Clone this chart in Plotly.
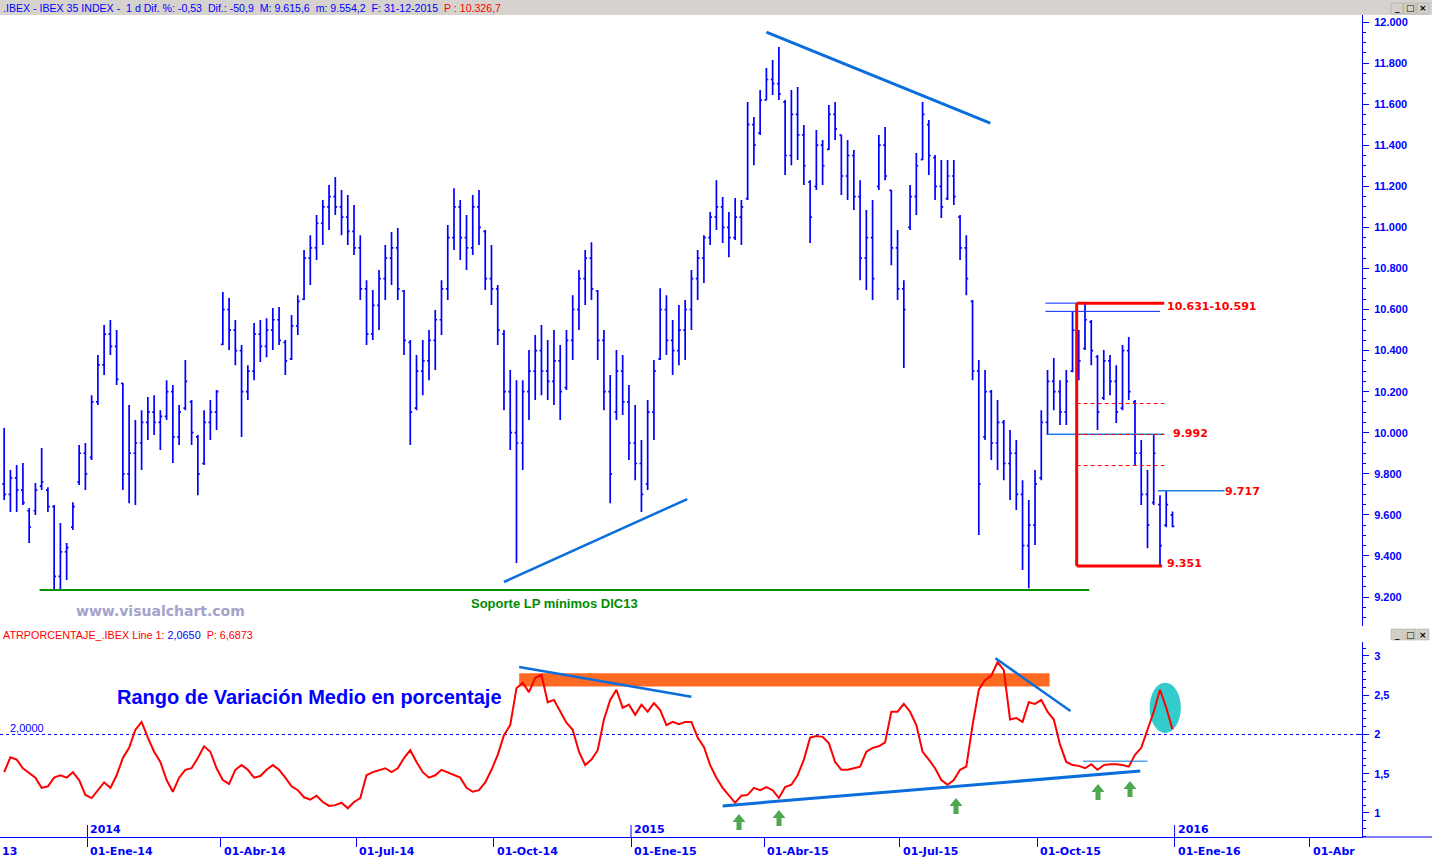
import pandas as pd
import plotly.graph_objects as go

W, H = 1432, 857


def px(x):
    return x / W


def py(y):
    return 1 - y / H


# ---------------- data ----------------
start_date = "2013-11-06"   # first bar; one bar every 3 trading days

opens = [9750, 9700, 9780, 9720, 9620, 9620, 9740, 9720, 9640, 9300,
         9420, 9540, 9760, 9900, 9880, 10150, 10330, 10480, 10420, 10240,
         9800, 9900, 9950, 10050, 10100, 10050, 10080, 10200, 9980, 10120,
         10150, 9980, 9850, 10050, 10100, 10430, 10600, 10500, 10400, 10200,
         10300, 10480, 10420, 10500, 10550, 10440, 10360, 10520, 10650, 10850,
         10900, 11020, 11100, 11150, 11100, 11050, 10980, 10900, 10700, 10480,
         10620, 10750, 10850, 10900, 10690, 10440, 10120, 10300, 10350, 10450,
         10550, 10700, 10950, 11100, 10950, 10900, 11100, 10980, 10750, 10700,
         10480, 10200, 10000, 9950, 10200, 10300, 10400, 10300, 10250, 10350,
         10220, 10450, 10600, 10750, 10850, 10690, 10450, 10200, 10100, 10300,
         10150, 9950, 9850, 9750, 10100, 10360, 10600, 10450, 10400, 10500,
         10600, 10750, 10850, 10950, 11050, 11100, 11000, 10950, 11050, 11140,
         11500, 11460, 11620, 11720, 11700, 11610, 11350, 11550, 11450, 11220,
         11200, 11400, 11380, 11550, 11450, 11250, 11350, 11150, 10850, 10950,
         11200, 11400, 11180, 10900, 10700, 11000, 11150, 11330, 11500, 11340,
         11200, 11140, 11250, 11050, 10900, 10640, 10300, 9980, 10200, 9950,
         10050, 9850, 9900, 9700, 9450, 9550, 9780, 10050, 10250, 10200,
         10100, 10300, 10480, 10410, 10540, 10370, 10170, 10350, 10250, 10120,
         10400, 10150, 9900, 9700, 9660, 9650, 9550, 9600]

highs = [10023, 9818, 9843, 9852, 9633, 9755, 9925, 9735, 9648, 9560,
         9463, 9662, 9940, 9950, 10183, 10378, 10524, 10549, 10500, 10242,
         10135, 10062, 10110, 10174, 10183, 10110, 10256, 10232, 10135, 10354,
         10159, 9989, 10110, 10159, 10208, 10685, 10656, 10549, 10427, 10329,
         10534, 10549, 10558, 10607, 10612, 10451, 10573, 10670, 10890, 10962,
         11060, 11133, 11206, 11245, 11182, 11157, 11109, 10962, 10743, 10695,
         10792, 10914, 10977, 10997, 10695, 10451, 10378, 10451, 10500, 10597,
         10743, 11011, 11191, 11133, 11060, 11157, 11182, 10987, 10914, 10719,
         10500, 10305, 10256, 10256, 10403, 10476, 10524, 10451, 10500, 10427,
         10500, 10670, 10792, 10890, 10928, 10695, 10500, 10281, 10403, 10378,
         10232, 10135, 9964, 10159, 10354, 10704, 10670, 10549, 10622, 10646,
         10792, 10890, 10962, 11075, 11230, 11148, 11075, 11143, 11133, 11610,
         11537, 11669, 11776, 11815, 11878, 11620, 11669, 11683, 11498, 11230,
         11474, 11425, 11596, 11610, 11450, 11425, 11377, 11230, 11084, 11133,
         11450, 11489, 11182, 10987, 10743, 11206, 11362, 11610, 11523, 11352,
         11328, 11328, 11328, 11060, 10962, 10646, 10354, 10305, 10208, 10159,
         10062, 10013, 9964, 9769, 9672, 9818, 10110, 10305, 10364, 10256,
         10305, 10588, 10500, 10631, 10549, 10378, 10403, 10378, 10329, 10427,
         10466, 10159, 9964, 9818, 9992, 9696, 9721, 9616]

lows = [9672, 9614, 9614, 9648, 9463, 9599, 9721, 9614, 9229, 9234,
        9283, 9526, 9745, 9721, 9867, 10135, 10281, 10378, 10232, 9721,
        9657, 9648, 9818, 9964, 9989, 9916, 10062, 9852, 9940, 10110,
        9940, 9696, 9843, 9964, 10013, 10427, 10403, 10329, 9979, 10159,
        10256, 10344, 10368, 10403, 10427, 10281, 10354, 10476, 10646, 10719,
        10841, 10914, 10987, 11060, 10962, 10914, 10865, 10646, 10427, 10451,
        10500, 10646, 10719, 10646, 10378, 9940, 10110, 10183, 10256, 10305,
        10476, 10646, 10890, 10841, 10792, 10865, 10914, 10695, 10622, 10427,
        10110, 9916, 9365, 9818, 10062, 10159, 10183, 10159, 10135, 10062,
        10208, 10354, 10500, 10622, 10646, 10354, 10110, 9657, 10062, 10086,
        9867, 9769, 9614, 9721, 9964, 10354, 10378, 10281, 10329, 10354,
        10500, 10646, 10729, 10914, 10987, 10924, 10855, 10938, 10914, 11133,
        11303, 11450, 11620, 11644, 11620, 11255, 11303, 11328, 11206, 10924,
        11182, 11206, 11377, 11425, 11157, 11133, 11084, 10743, 10695, 10646,
        11182, 11230, 10816, 10646, 10315, 10987, 11060, 11328, 11255, 11133,
        11045, 11133, 11109, 10841, 10670, 10256, 9502, 9964, 9867, 9818,
        9769, 9672, 9624, 9331, 9243, 9453, 9769, 9989, 10110, 10037,
        10037, 10295, 10256, 10403, 10329, 10013, 10159, 10183, 10047, 10110,
        10159, 9843, 9648, 9438, 9648, 9351, 9540, 9540]

closes = [9700, 9780, 9720, 9660, 9540, 9720, 9760, 9640, 9300, 9420,
          9440, 9640, 9900, 9800, 10150, 10330, 10480, 10420, 10260, 9800,
          9900, 9950, 10050, 10100, 10050, 10080, 10200, 9980, 10100, 10250,
          10000, 9800, 10050, 10100, 10200, 10600, 10500, 10400, 10200, 10300,
          10480, 10420, 10500, 10550, 10450, 10350, 10520, 10640, 10850, 10900,
          11020, 11100, 11150, 11100, 11050, 10980, 10900, 10700, 10480, 10620,
          10750, 10850, 10900, 10700, 10450, 10100, 10300, 10350, 10450, 10550,
          10700, 10950, 11100, 10950, 10900, 11100, 11000, 10750, 10700, 10500,
          10200, 10000, 9950, 10200, 10300, 10400, 10300, 10250, 10350, 10200,
          10450, 10600, 10750, 10850, 10700, 10450, 10200, 9800, 10300, 10150,
          9950, 9850, 9700, 10100, 10300, 10600, 10450, 10400, 10500, 10600,
          10750, 10850, 10950, 11050, 11100, 11000, 10950, 11050, 11100, 11500,
          11400, 11620, 11720, 11700, 11650, 11350, 11550, 11450, 11300, 11050,
          11400, 11300, 11550, 11480, 11250, 11350, 11150, 10850, 10950, 10750,
          11400, 11250, 10900, 10700, 10600, 11150, 11300, 11550, 11350, 11200,
          11100, 11250, 11150, 10900, 10750, 10300, 9750, 10200, 9950, 10050,
          9850, 9900, 9700, 9450, 9550, 9750, 10050, 10250, 10200, 10100,
          10250, 10500, 10350, 10550, 10400, 10100, 10350, 10250, 10100, 10400,
          10200, 9900, 9700, 9550, 9900, 9450, 9650, 9544]

atr_pct = [1.52, 1.71, 1.68, 1.57, 1.51, 1.45, 1.32, 1.34, 1.45, 1.48,
           1.45, 1.52, 1.42, 1.23, 1.19, 1.29, 1.39, 1.32, 1.48, 1.70,
           1.83, 2.06, 2.16, 1.96, 1.78, 1.65, 1.42, 1.27, 1.45, 1.55,
           1.57, 1.70, 1.85, 1.78, 1.57, 1.42, 1.37, 1.55, 1.61, 1.55,
           1.45, 1.47, 1.55, 1.61, 1.55, 1.45, 1.34, 1.29, 1.20, 1.17,
           1.22, 1.14, 1.09, 1.10, 1.13, 1.06, 1.14, 1.19, 1.48, 1.52,
           1.55, 1.57, 1.52, 1.57, 1.70, 1.80, 1.65, 1.52, 1.45, 1.48,
           1.55, 1.52, 1.48, 1.45, 1.32, 1.27, 1.29, 1.39, 1.55, 1.74,
           1.99, 2.12, 2.59, 2.66, 2.54, 2.72, 2.76, 2.41, 2.44, 2.29,
           2.15, 2.06, 1.78, 1.61, 1.68, 1.80, 2.19, 2.44, 2.57, 2.34,
           2.38, 2.25, 2.38, 2.29, 2.40, 2.31, 2.12, 2.16, 2.13, 2.16,
           2.16, 1.96, 1.84, 1.61, 1.45, 1.32, 1.23, 1.13, 1.22, 1.23,
           1.32, 1.29, 1.33, 1.29, 1.19, 1.33, 1.36, 1.48, 1.68, 1.96,
           1.98, 1.97, 1.89, 1.65, 1.55, 1.55, 1.57, 1.59, 1.78, 1.83,
           1.85, 1.90, 2.29, 2.29, 2.39, 2.29, 2.12, 1.78, 1.68, 1.57,
           1.42, 1.36, 1.42, 1.55, 1.59, 2.12, 2.57, 2.69, 2.75, 2.92,
           2.82, 2.19, 2.21, 2.16, 2.41, 2.39, 2.44, 2.29, 2.19, 1.87,
           1.65, 1.61, 1.60, 1.57, 1.62, 1.55, 1.61, 1.62, 1.62, 1.61,
           1.59, 1.74, 1.83, 2.06, 2.29, 2.57, 2.34, 2.065]

quarter_dates = ["2014-01-01", "2014-04-01", "2014-07-01", "2014-10-01", "2015-01-01",
                 "2015-04-01", "2015-07-01", "2015-10-01", "2016-01-01", "2016-04-01"]
quarter_labels = ["01-Ene-14", "01-Abr-14", "01-Jul-14", "01-Oct-14", "01-Ene-15",
                  "01-Abr-15", "01-Jul-15", "01-Oct-15", "01-Ene-16", "01-Abr"]
year_dates = ["2014-01-01", "2015-01-01", "2016-01-01"]
year_labels = ["2014", "2015", "2016"]

# analyst drawings on the price panel: (date0, price0, date1, price1)
price_trend_top = ("2015-04-02", 11951, "2015-08-31 12:00", 11508)
price_trend_low = ("2014-10-08", 9273, "2015-02-09", 9677)
support_lp = ("2013-11-29", 9234, "2015-11-05", 9234)
fib_levels = [10142, 9991, 9840]
range_high, range_high2, range_low = 10631, 10591, 9351
level_9992, level_9717 = 9992, 9717

dates = pd.bdate_range(start=start_date, periods=len(closes), freq="3B")

BLUE = "#0000FF"
TREND = "#0A6FDC"
LIGHTBLUE = "#1E7FE6"

fig = go.Figure()
fig.add_trace(go.Ohlc(
    x=dates, open=opens, high=highs, low=lows, close=closes,
    increasing=dict(line=dict(color=BLUE, width=1.7)),
    decreasing=dict(line=dict(color=BLUE, width=1.7)),
    tickwidth=0.3, xaxis="x", yaxis="y", hoverinfo="skip", showlegend=False))
fig.add_trace(go.Scatter(
    x=dates, y=atr_pct, mode="lines", line=dict(color="#FF0000", width=2),
    xaxis="x", yaxis="y2", hoverinfo="skip", showlegend=False))

shapes = []


def seg(x0, y0, x1, y1, color, width, xref="x", yref="y", dash="solid", layer="above"):
    shapes.append(dict(type="line", x0=x0, y0=y0, x1=x1, y1=y1, xref=xref, yref=yref,
                       line=dict(color=color, width=width, dash=dash), layer=layer))


# header bar
shapes.append(dict(type="rect", xref="paper", yref="paper", x0=0, x1=1, y0=py(15), y1=1,
                   fillcolor="#D6D3CE", line=dict(width=0), layer="above"))

# price drawings
seg(*price_trend_top, TREND, 3)
seg(*price_trend_low, TREND, 2.5)
seg(*support_lp, "#009000", 2)
seg("2015-10-07", range_high, "2015-12-25", range_high, "#0022FF", 1)
seg("2015-10-07", range_high2, "2015-12-23", range_high2, "#0022FF", 1)
seg("2015-10-08", level_9992, "2015-12-25", level_9992, LIGHTBLUE, 1.5)
for lv in fib_levels:
    seg("2015-10-28", lv, "2015-12-25", lv, "#FF0000", 1, dash="4px,3px")
seg("2015-10-28", range_high, "2015-12-25", range_high, "#FF0000", 3)
seg("2015-10-28", range_high, "2015-10-28", range_low, "#FF0000", 3)
seg("2015-10-28", range_low, "2015-12-24", range_low, "#FF0000", 3)
seg("2015-12-22", level_9717, "2016-02-04", level_9717, LIGHTBLUE, 1.5)

# indicator drawings
shapes.append(dict(type="rect", xref="x", yref="y2", x0="2014-10-17 07:00", x1="2015-10-09",
                   y0=2.61, y1=2.78, fillcolor="#FF6A22", line=dict(width=0), layer="below"))
shapes.append(dict(type="circle", xref="x", yref="y2", x0="2015-12-16", x1="2016-01-06",
                   y0=2.02, y1=2.66, fillcolor="#33CCCC", line=dict(width=0), layer="below"))
seg(0, 2.0, px(1362), 2.0, BLUE, 1, xref="paper", yref="y2", dash="3px,3px", layer="below")
seg(px(1356), 2.0, px(1362), 2.0, BLUE, 1, xref="paper", yref="y2")
seg("2014-10-17 07:00", 2.86, "2015-02-11", 2.48, TREND, 2.5, yref="y2")
seg("2015-09-03", 2.97, "2015-10-23", 2.30, TREND, 2.5, yref="y2")
seg("2015-03-04", 1.09, "2015-12-09 12:00", 1.535, TREND, 3, yref="y2")
seg("2015-11-02", 1.66, "2015-12-15", 1.66, TREND, 1, yref="y2")


def arrow_path(cx, ty):
    pts = [(cx - 6.5, ty + 8), (cx, ty), (cx + 6.5, ty + 8), (cx + 2.5, ty + 8),
           (cx + 2.5, ty + 16), (cx - 2.5, ty + 16), (cx - 2.5, ty + 8)]
    return "M " + " L ".join(f"{px(a):.5f},{py(b):.5f}" for a, b in pts) + " Z"


for cx, ty in [(739, 814), (779, 810), (956, 798), (1098, 784), (1130, 781)]:
    shapes.append(dict(type="path", xref="paper", yref="paper", path=arrow_path(cx, ty),
                       fillcolor="#4FA84F", line=dict(width=0)))

# axis decorations
seg(px(1362), py(837), 1, py(837), BLUE, 1, xref="paper", yref="paper")
for d in year_dates:
    seg(d, py(837), d, py(825), BLUE, 1, yref="paper")

# window buttons
for ytop in (3, 629):
    for bx in (1391, 1404, 1417):
        shapes.append(dict(type="rect", xref="paper", yref="paper", x0=px(bx), x1=px(bx + 12),
                           y0=py(ytop + 11), y1=py(ytop), fillcolor="#D4D0C8",
                           line=dict(color="#A0A0A0", width=0.5)))

ann = []


def text(t, x, y, xref="paper", yref="paper", size=11, color=BLUE, family="Liberation Sans",
         bold=False, xanchor="left", yanchor="middle", xshift=0, yshift=0):
    ann.append(dict(text=t, x=x, y=y, xref=xref, yref=yref, showarrow=False, xanchor=xanchor,
                    yanchor=yanchor, xshift=xshift, yshift=yshift, borderpad=0,
                    font=dict(family=family, size=size, color=color,
                              weight="bold" if bold else "normal")))


text(".IBEX - IBEX 35 INDEX - &nbsp;1 d Dif. %: -0,53 &nbsp;Dif.: -50,9 &nbsp;M: 9.615,6 &nbsp;"
     "m: 9.554,2 &nbsp;F: 31-12-2015 &nbsp;<span style='color:#FF0000'>P : 10.326,7</span>",
     px(2), py(7.5), size=10.6)
text("ATRPORCENTAJE_.IBEX Line 1: <span style='color:#0000FF'>2,0650</span> &nbsp;P: 6,6873",
     px(2), py(634.5), color="#FF0000", size=10.8)
for ytop in (3, 629):
    for bx, g in zip((1391, 1404, 1417), ("_", "□", "×")):
        text(g, px(bx + 6), py(ytop + 5.5), family="DejaVu Sans", size=9, color="#000000",
             bold=True, xanchor="center")

text("Rango de Variación Medio en porcentaje", px(116), py(697), size=20, bold=True)
text("2,0000", px(9), py(728))
text("www.visualchart.com", px(75), py(611), family="DejaVu Sans", size=14, bold=True,
     color="#A3A3CC")
text("Soporte LP mínimos DIC13", px(470), py(603), size=13, bold=True, color="#008C00")
text("10.631-10.591", px(1166), py(306), family="DejaVu Sans", size=11, bold=True, color="#FF0000")
text("9.992", px(1172), py(433), family="DejaVu Sans", size=11, bold=True, color="#FF0000")
text("9.717", px(1224), py(491), family="DejaVu Sans", size=11, bold=True, color="#FF0000")
text("9.351", px(1166), py(563), family="DejaVu Sans", size=11, bold=True, color="#FF0000")

for d, lab in zip(quarter_dates, quarter_labels):
    text(lab, d, py(851), xref="x", family="DejaVu Sans", size=11, bold=True, xshift=2)
for d, lab in zip(year_dates, year_labels):
    text(lab, d, py(829), xref="x", family="DejaVu Sans", size=11, bold=True, xshift=2)
text("13", px(1), py(851), family="DejaVu Sans", size=11, bold=True)

axis_font = dict(family="Liberation Sans", size=11, color=BLUE, weight="bold")

fig.update_layout(
    width=W, height=H, autosize=False,
    margin=dict(l=0, r=0, t=0, b=0),
    paper_bgcolor="white", plot_bgcolor="white",
    separators=",.",
    showlegend=False,
    xaxis=dict(domain=[0, px(1362)], anchor="y2", type="date",
               range=["2013-11-04", "2016-05-06"],
               rangebreaks=[dict(bounds=["sat", "mon"])],
               rangeslider=dict(visible=False),
               showgrid=False, zeroline=False, showline=True, linecolor=BLUE, linewidth=1,
               ticks="outside", ticklen=9, tickcolor=BLUE, tickvals=quarter_dates,
               showticklabels=False, fixedrange=True),
    yaxis=dict(domain=[py(626), py(15)], range=[9058.8, 12034.1], side="right", anchor="x",
               showgrid=False, zeroline=False, showline=True, linecolor=BLUE, linewidth=1,
               ticks="outside", ticklen=6, tickcolor=BLUE, tick0=9200, dtick=200,
               tickformat=",.0f", tickfont=axis_font, ticklabelstandoff=3,
               minor=dict(tick0=9200, dtick=50, ticks="outside", ticklen=3, tickcolor=BLUE),
               fixedrange=True),
    yaxis2=dict(domain=[py(837), py(642)], range=[0.694, 3.178], side="right", anchor="x",
                showgrid=False, zeroline=False, showline=True, linecolor=BLUE, linewidth=1,
                ticks="outside", ticklen=6, tickcolor=BLUE, tick0=1, dtick=0.5,
                tickfont=axis_font, ticklabelstandoff=3,
                minor=dict(tick0=1, dtick=0.1, ticks="outside", ticklen=3, tickcolor=BLUE),
                fixedrange=True),
    shapes=shapes,
    annotations=ann,
)

fig.write_html("out.html", config={"displayModeBar": False},
               post_script="document.body.style.margin='0';document.body.style.overflow='hidden';")
